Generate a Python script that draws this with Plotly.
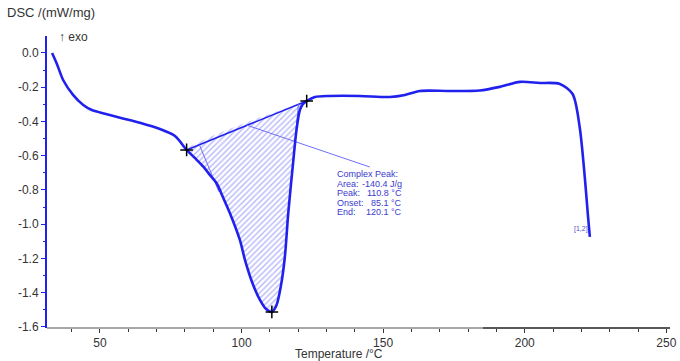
import plotly.graph_objects as go

# ---- data ----
temp = [33.1, 34.8, 37.0, 40.5, 44.1, 47.1, 50.0, 57.1, 64.1, 71.2, 76.5,
        80.6, 83.5, 86.5, 88.8, 91.2, 93.4, 95.9, 99.4, 101.2, 103.7, 106.5, 108.6,
        110.7, 112.3, 113.9, 115.3, 116.5, 118.2, 119.4, 120.6, 121.7, 123.0,
        125.9, 131.2, 141.8, 152.4, 157.7, 163.0, 173.5, 184.1, 191.2, 198.3,
        205.3, 212.4, 216.9, 219.4, 221.2, 222.3, 223.0]
dsc = [0.000, -0.064, -0.158, -0.245, -0.304, -0.333, -0.347, -0.378, -0.407, -0.444, -0.485,
       -0.566, -0.613, -0.664, -0.712, -0.761, -0.841, -0.936, -1.092, -1.208, -1.337, -1.442, -1.494,
       -1.512, -1.475, -1.360, -1.190, -0.934, -0.642, -0.450, -0.333, -0.298, -0.281,
       -0.257, -0.251, -0.251, -0.257, -0.245, -0.222, -0.222, -0.219, -0.198, -0.169,
       -0.175, -0.181, -0.240, -0.432, -0.724, -0.946, -1.074]

limit_t = [80.6, 123.0]          # integration limits (baseline ends)
peak_t, peak_v = 110.7, -1.512
onset_line_t = [85.1, 92.0]
onset_line_v = [-0.536, -0.810]
end_line_t = [120.1, 118.5]
end_line_v = [-0.299, -0.580]
leader_t = [101.9, 145.3]
leader_v = [-0.422, -0.666]

ann_labels = ["Complex Peak:", "Area:", "Peak:", "Onset:", "End:"]
ann_values = ["", "-140.4 J/g", "110.8 °C", "85.1 °C", "120.1 °C"]

x_tickvals = [50, 100, 150, 200, 250]
y_tickvals = [0.0, -0.2, -0.4, -0.6, -0.8, -1.0, -1.2, -1.4, -1.6]
y_ticktext = ["0.0", "-0.2", "-0.4", "-0.6", "-0.8", "-1.0", "-1.2", "-1.4", "-1.6"]

BLUE = "#2121ee"
LIGHT = "#6f6ff8"
FONT = "Liberation Sans, Arial, sans-serif"

# peak region polygon (curve between limits, then back along baseline)
poly_t, poly_v = [], []
for t, v in zip(temp, dsc):
    if limit_t[0] <= t <= limit_t[1]:
        poly_t.append(t)
        poly_v.append(v)
lim_vals = [poly_v[0], poly_v[-1]]
poly_t += [limit_t[1], limit_t[0]]
poly_v += [lim_vals[1], lim_vals[0]]

fig = go.Figure()
fig.add_trace(go.Scatter(x=poly_t, y=poly_v, mode="lines", fill="toself",
                         line=dict(width=0, color=BLUE, shape="spline", smoothing=0.8),
                         fillcolor="rgba(0,0,0,0)",
                         fillpattern=dict(shape="/", fgcolor=LIGHT, bgcolor="white",
                                          size=4, solidity=0.35),
                         hoverinfo="skip", showlegend=False))
# baseline
fig.add_trace(go.Scatter(x=limit_t, y=lim_vals, mode="lines",
                         line=dict(color=BLUE, width=1.6), showlegend=False))
# tangents and leader line
for xs, ys in [(onset_line_t, onset_line_v), (end_line_t, end_line_v), (leader_t, leader_v)]:
    fig.add_trace(go.Scatter(x=xs, y=ys, mode="lines",
                             line=dict(color=LIGHT, width=1), showlegend=False))
# main curve
fig.add_trace(go.Scatter(x=temp, y=dsc, mode="lines",
                         line=dict(color=BLUE, width=2.6, shape="spline", smoothing=0.8),
                         showlegend=False))
# markers
fig.add_trace(go.Scatter(x=limit_t + [peak_t], y=lim_vals + [peak_v], mode="markers",
                         marker=dict(symbol="cross-thin", size=9,
                                     line=dict(color="black", width=1.5)),
                         showlegend=False))

# annotation text block
y0 = -0.708
step = -0.0555
for i, (lab, val) in enumerate(zip(ann_labels, ann_values)):
    fig.add_annotation(x=132.9, y=y0 + i * step, text=lab, showarrow=False,
                       xanchor="left", yanchor="middle",
                       font=dict(family=FONT, size=9, color="#3a3acc"))
    if val:
        fig.add_annotation(x=157.4, y=y0 + i * step, text=val, showarrow=False,
                           xanchor="right", yanchor="middle",
                           font=dict(family=FONT, size=9, color="#3a3acc"))

fig.add_annotation(x=219.9, y=-1.03, text="[1,2]", showarrow=False,
                   xanchor="center", yanchor="middle",
                   font=dict(family=FONT, size=7, color="#5050c0"))

# title texts
fig.add_annotation(xref="paper", yref="paper", x=-0.0674, y=1.079, text="DSC /(mW/mg)",
                   showarrow=False, xanchor="left", yanchor="middle",
                   font=dict(family=FONT, size=13, color="#333333"))
fig.add_annotation(xref="paper", yref="paper", x=0.016, y=0.997, text="↑ exo",
                   showarrow=False, xanchor="left", yanchor="middle",
                   font=dict(family=FONT, size=12, color="#333333"))
fig.add_annotation(xref="paper", yref="paper", x=0.468, y=-0.0885, text="Temperature /°C",
                   showarrow=False, xanchor="center", yanchor="middle",
                   font=dict(family=FONT, size=12, color="#333333"))

# bottom frame line: grey part then black part
fig.add_shape(type="line", xref="x", yref="y domain", x0=31.3, x1=185.2, y0=0, y1=0,
              line=dict(color="#8a8a8a", width=1.5))
fig.add_shape(type="line", xref="x", yref="y domain", x0=185.2, x1=251.3, y0=0, y1=0,
              line=dict(color="#222222", width=1.5))

fig.update_layout(
    width=680, height=361,
    margin=dict(l=47, r=10, t=36, b=33, autoexpand=False),
    paper_bgcolor="white", plot_bgcolor="white",
    font=dict(family=FONT, size=12, color="#333333"),
    xaxis=dict(range=[31.3, 251.3], tickvals=x_tickvals, showgrid=False, zeroline=False,
               showline=False,
               ticks="outside", ticklen=4, tickcolor="#333333", tickwidth=1,
               minor=dict(dtick=10, tick0=0, ticks="outside", ticklen=3, tickcolor="#333333"),
               tickfont=dict(size=12, color="#333333"), automargin=False),
    yaxis=dict(range=[-1.606, 0.099], tickvals=y_tickvals, ticktext=y_ticktext,
               showgrid=False, zeroline=False, automargin=False,
               showline=True, linecolor=BLUE, linewidth=2,
               ticks="outside", ticklen=4, tickcolor=BLUE, tickwidth=1,
               minor=dict(dtick=0.1, tick0=0, ticks="outside", ticklen=2, tickcolor=BLUE),
               tickfont=dict(size=12, color="#333333")),
)

fig.write_html("out.html", config={"displayModeBar": False},
               post_script="document.body.style.margin='0';document.body.style.overflow='hidden';")
